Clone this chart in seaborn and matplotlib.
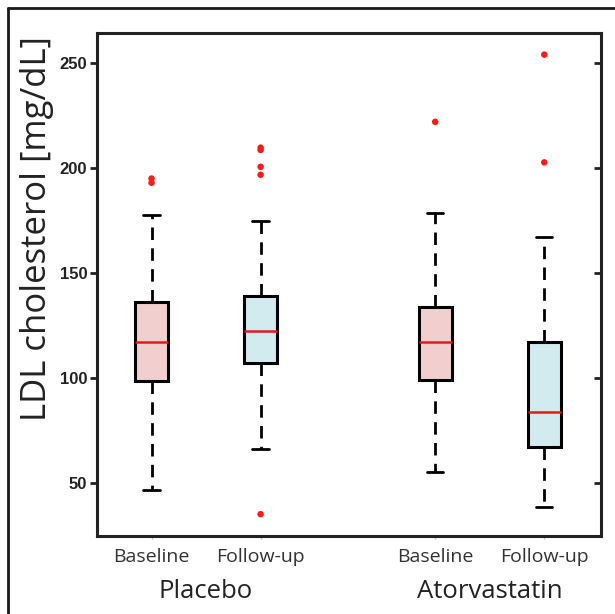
import matplotlib
matplotlib.use("Agg")
import matplotlib.pyplot as plt
import matplotlib.lines as mlines
import seaborn as sns
import pandas as pd

# values (mg/dL)
groups = ["Placebo", "Placebo", "Atorvastatin", "Atorvastatin"]
visits = ["Baseline", "Follow-up", "Baseline", "Follow-up"]
whis_lo = [46.7, 66.2, 55.4, 38.4]
q1 = [98.6, 107.0, 99.0, 67.0]
median = [117.0, 122.5, 117.0, 84.0]
q3 = [136.2, 139.0, 134.0, 117.0]
whis_hi = [177.6, 175.0, 178.5, 167.0]
outliers = [[193.0, 195.0], [35.2, 196.8, 200.6, 208.6, 209.7], [222.0], [202.7, 254.0]]
positions = [1, 2, 3.6, 4.6]
yticks = [50, 100, 150, 200, 250]

box_colors = {"Baseline": "#f2cfcf", "Follow-up": "#d1ebee"}

sns.set_theme(style="white")
plt.rcParams["font.family"] = ["Liberation Sans", "DejaVu Sans"]

fig = plt.figure(figsize=(6.15, 6.14), dpi=100)
ax = fig.add_axes([97 / 615, 1 - 536 / 614, 504 / 615, 503 / 614])

stats = []
for i in range(4):
    stats.append({
        "whislo": whis_lo[i], "q1": q1[i], "med": median[i],
        "q3": q3[i], "whishi": whis_hi[i], "fliers": [],
    })

bp = ax.bxp(stats, positions=positions, widths=0.3, patch_artist=True,
            showfliers=False, showcaps=True,
            boxprops=dict(edgecolor="black", linewidth=2.2),
            medianprops=dict(color="#e31a1c", linewidth=1.8),
            whiskerprops=dict(color="black", linewidth=2.0, linestyle=(0, (4.5, 3))),
            capprops=dict(color="black", linewidth=2.0),
            capwidths=0.15)
for patch, v in zip(bp["boxes"], visits):
    patch.set_facecolor(box_colors[v])

# outliers
out_df = pd.DataFrame({
    "x": [positions[i] for i in range(4) for _ in outliers[i]],
    "y": [v for i in range(4) for v in outliers[i]],
})
sns.scatterplot(data=out_df, x="x", y="y", ax=ax, color="#ff1a1a",
                s=22, edgecolor="none", zorder=5, legend=False)

ax.set_xlim(0.5, 5.12)
ax.set_ylim(24.8, 264.3)
ax.set_yticks(yticks)
ax.set_yticklabels([str(t) for t in yticks], fontsize=12, fontweight="bold",
                   color="#222222")
ax.set_xticks(positions)
ax.set_xticklabels(visits, fontsize=14, family=["Open Sans", "DejaVu Sans"],
                   color="#333333")
ax.tick_params(axis="x", bottom=True, length=2, width=1, color="#bbbbbb", pad=7)
ax.tick_params(axis="y", left=True, direction="out", length=5, width=2,
               color="#222222", pad=2)
ax.set_xlabel("")
ax.set_ylabel("LDL cholesterol [mg/dL]", fontsize=25,
              family=["Open Sans", "DejaVu Sans"], color="#222222")
ax.yaxis.set_label_coords(-0.085, 0.612)

sec = ax.secondary_yaxis("right")
sec.set_yticks(yticks)
sec.tick_params(direction="in", length=5, width=2, color="#222222",
                labelright=False)
for s in sec.spines.values():
    s.set_visible(False)

for s in ax.spines.values():
    s.set_visible(True)
    s.set_linewidth(2.2)
    s.set_color("#222222")

# group labels under the tick labels
for name, xpos in [("Placebo", (positions[0] + positions[1]) / 2),
                   ("Atorvastatin", (positions[2] + positions[3]) / 2)]:
    ax.text(xpos, -0.11, name, transform=ax.get_xaxis_transform(),
            ha="center", va="center", fontsize=18.5,
            family=["Open Sans", "DejaVu Sans"], color="#222222")

# outer frame (only left and top visible in the crop)
fx = 8 / 615
fy = 1 - 8 / 614
fig.add_artist(mlines.Line2D([fx, fx], [0, fy], transform=fig.transFigure,
                             color="#1a1a1a", linewidth=2))
fig.add_artist(mlines.Line2D([fx, 1], [fy, fy], transform=fig.transFigure,
                             color="#1a1a1a", linewidth=2))

fig.savefig("out.png", dpi=100)
